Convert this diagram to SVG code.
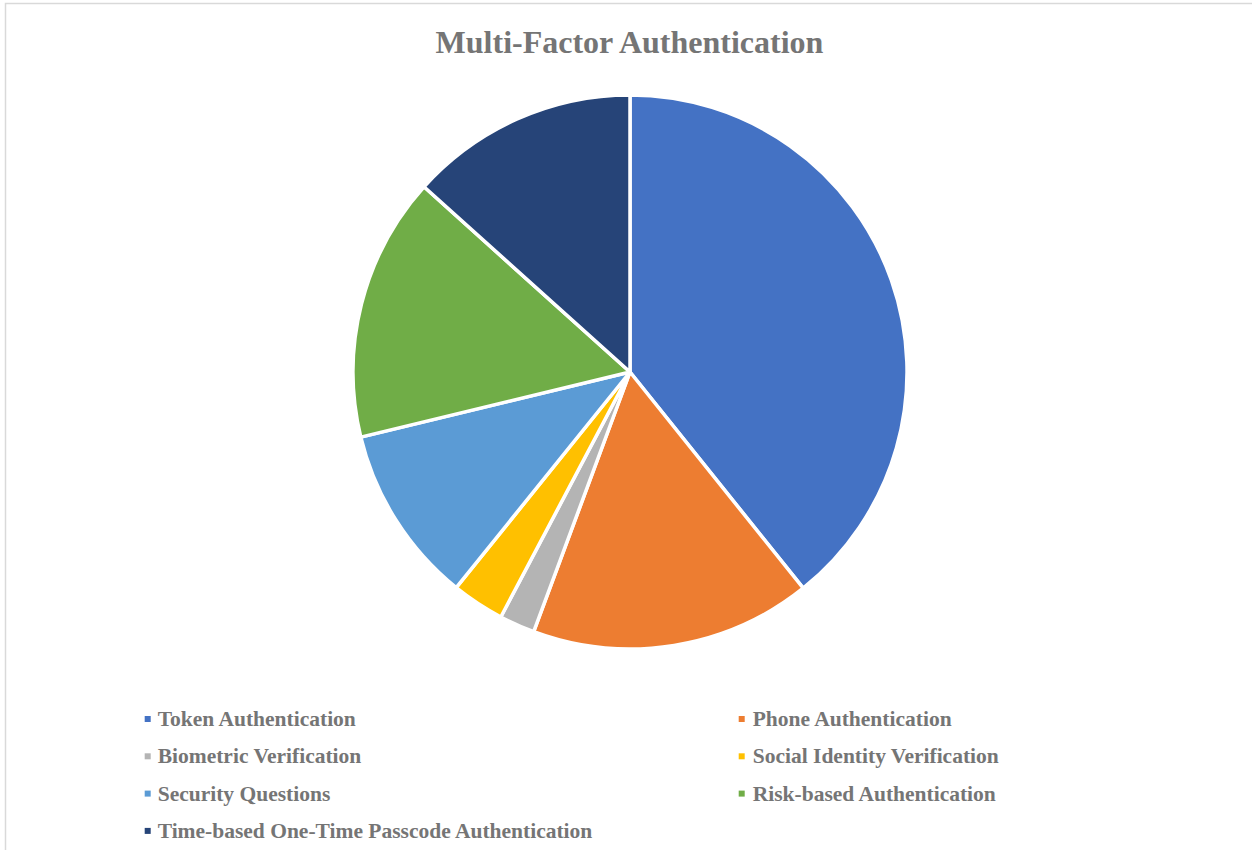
<svg xmlns="http://www.w3.org/2000/svg" width="1252" height="850" viewBox="0 0 1252 850">
  <style>
    .slice { stroke: #FFFFFF; stroke-width: 3.5; stroke-linejoin: round; }
    .title { font-family: "Liberation Serif", "Times New Roman", serif; font-weight: bold; font-size: 32px; fill: #757575; }
    .leg { font-family: "Liberation Serif", "Times New Roman", serif; font-weight: bold; font-size: 21.5px; fill: #757575; }
  </style>
  <rect x="0" y="0" width="1252" height="850" fill="#FFFFFF"/>
  <rect x="5.5" y="3.5" width="1270" height="870" fill="none" stroke="#D9D9D9" stroke-width="1.5"/>
  <text class="title" x="629.5" y="53" text-anchor="middle">Multi-Factor Authentication</text>

  <g id="pie">
    <g id="slice-token"><path class="slice" fill="#4472C4" d="M630,372 L630,95 A277,277 0 0 1 803.2,588.2 Z"/></g>
    <g id="slice-phone"><path class="slice" fill="#ED7D31" d="M630,372 L803.2,588.2 A277,277 0 0 1 533.7,631.7 Z"/></g>
    <g id="slice-biometric"><path class="slice" fill="#B4B4B4" d="M630,372 L533.7,631.7 A277,277 0 0 1 500.8,617.0 Z"/></g>
    <g id="slice-social"><path class="slice" fill="#FFC000" d="M630,372 L500.8,617.0 A277,277 0 0 1 456.2,587.7 Z"/></g>
    <g id="slice-security"><path class="slice" fill="#5B9BD5" d="M630,372 L456.2,587.7 A277,277 0 0 1 360.8,437.1 Z"/></g>
    <g id="slice-risk"><path class="slice" fill="#70AD47" d="M630,372 L360.8,437.1 A277,277 0 0 1 424.0,186.8 Z"/></g>
    <g id="slice-time"><path class="slice" fill="#264478" d="M630,372 L424.0,186.8 A277,277 0 0 1 630,95 Z"/></g>
  </g>

  <g id="connectors"></g>

  <g id="legend">
    <g id="leg-token"><rect x="144.7" y="716" width="6" height="6" fill="#4472C4"/><text class="leg" x="157.7" y="726">Token Authentication</text></g>
    <g id="leg-phone"><rect x="738.7" y="716" width="6" height="6" fill="#ED7D31"/><text class="leg" x="752.7" y="726">Phone Authentication</text></g>
    <g id="leg-biometric"><rect x="144.7" y="753.3" width="6" height="6" fill="#B4B4B4"/><text class="leg" x="157.7" y="763.3">Biometric Verification</text></g>
    <g id="leg-social"><rect x="738.7" y="753.3" width="6" height="6" fill="#FFC000"/><text class="leg" x="752.7" y="763.3">Social Identity Verification</text></g>
    <g id="leg-security"><rect x="144.7" y="790.6" width="6" height="6" fill="#5B9BD5"/><text class="leg" x="157.7" y="800.6">Security Questions</text></g>
    <g id="leg-risk"><rect x="738.7" y="790.6" width="6" height="6" fill="#70AD47"/><text class="leg" x="752.7" y="800.6">Risk-based Authentication</text></g>
    <g id="leg-time"><rect x="144.7" y="827.9" width="6" height="6" fill="#264478"/><text class="leg" x="157.7" y="837.9">Time-based One-Time Passcode Authentication</text></g>
  </g>
</svg>
